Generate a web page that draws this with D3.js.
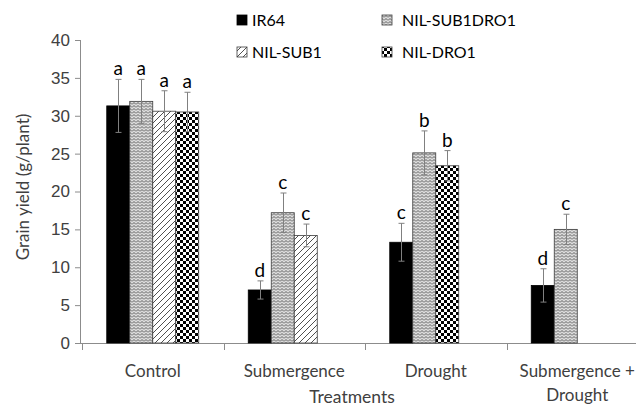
<!DOCTYPE html>
<html>
<head>
<meta charset="utf-8">
<script src="https://cdn.jsdelivr.net/npm/d3@7/dist/d3.min.js"></script>
<style>
  html, body { margin: 0; padding: 0; background: #fff; }
  svg { display: block; font-family: Lato, "Open Sans", sans-serif; }
</style>
</head>
<body>
<svg id="chart" width="636" height="406"></svg>
<script>
// Treatments along the x axis
const categories = ["Control", "Submergence", "Drought", "Submergence + Drought"];
// Genotypes, in bar order within each treatment
const seriesNames = ["IR64", "NIL-SUB1DRO1", "NIL-SUB1", "NIL-DRO1"];
// Legend order (two rows of two)
const legendOrder = ["IR64", "NIL-SUB1DRO1", "NIL-SUB1", "NIL-DRO1"];

// Mean grain yield (g/plant); null = not grown under that treatment
const yieldIR64     = [31.3, 7.0, 13.3, 7.6];
const yieldSUB1DRO1 = [31.9, 17.2, 25.1, 15.0];
const yieldSUB1     = [30.6, 14.2, null, null];
const yieldDRO1     = [30.5, null, 23.4, null];

// Standard errors
const errIR64     = [3.5, 1.2, 2.5, 2.2];
const errSUB1DRO1 = [2.9, 2.6, 2.9, 2.0];
const errSUB1     = [2.7, 1.5, null, null];
const errDRO1     = [2.6, null, 2.0, null];

// Significance letters
const letIR64     = ["a", "d", "c", "d"];
const letSUB1DRO1 = ["a", "c", "b", "c"];
const letSUB1     = ["a", "c", null, null];
const letDRO1     = ["a", null, "b", null];

const yTicks = [0, 5, 10, 15, 20, 25, 30, 35, 40];

const values  = [yieldIR64, yieldSUB1DRO1, yieldSUB1, yieldDRO1];
const errors  = [errIR64, errSUB1DRO1, errSUB1, errDRO1];
const letters = [letIR64, letSUB1DRO1, letSUB1, letDRO1];

const svg = d3.select("#chart");
const textColor = "#404040";
const axisColor = "#8c8c8c";

// Fill patterns for the genotypes
const defs = svg.append("defs");
const pWave = defs.append("pattern").attr("id", "pWave")
  .attr("patternUnits", "userSpaceOnUse").attr("width", 4).attr("height", 3);
pWave.append("rect").attr("width", 4).attr("height", 3).attr("fill", "#dcdcdc");
pWave.append("path").attr("d", "M0,2.5 L2,0.5 L4,2.5")
  .attr("fill", "none").attr("stroke", "#5e5e5e").attr("stroke-width", 1);

const pDiag = defs.append("pattern").attr("id", "pDiag")
  .attr("patternUnits", "userSpaceOnUse").attr("width", 6).attr("height", 6);
pDiag.append("rect").attr("width", 6).attr("height", 6).attr("fill", "#fff");
pDiag.append("path").attr("d", "M0,6 L6,0 M-1.5,1.5 L1.5,-1.5 M4.5,7.5 L7.5,4.5")
  .attr("stroke", "#505050").attr("stroke-width", 1);

const pCheck = defs.append("pattern").attr("id", "pCheck")
  .attr("patternUnits", "userSpaceOnUse").attr("width", 6).attr("height", 6);
pCheck.append("rect").attr("width", 6).attr("height", 6).attr("fill", "#fff");
pCheck.append("rect").attr("width", 3).attr("height", 3).attr("fill", "#000");
pCheck.append("rect").attr("x", 3).attr("y", 3).attr("width", 3).attr("height", 3).attr("fill", "#000");

const fills = {
  "IR64": "#000",
  "NIL-SUB1DRO1": "url(#pWave)",
  "NIL-SUB1": "url(#pDiag)",
  "NIL-DRO1": "url(#pCheck)"
};

// Scales
const x = d3.scaleBand().domain(categories).range([82, 648]).paddingInner(0).paddingOuter(0);
const groupW = 92;
const slot = d3.scaleBand().domain([0, 1, 2, 3])
  .range([(x.bandwidth() - groupW) / 2, (x.bandwidth() + groupW) / 2]).padding(0);
const y = d3.scaleLinear().domain([0, 40]).range([343, 40]);

// Y axis
const yAxis = svg.append("g").attr("transform", "translate(81,0)")
  .call(d3.axisLeft(y).tickValues(yTicks).tickSize(6).tickPadding(5));
yAxis.select(".domain").attr("stroke", axisColor).attr("d", `M-0.5,${y(40)}V${y(0)}`);
yAxis.selectAll(".tick line").attr("stroke", axisColor);
yAxis.selectAll(".tick text").attr("fill", textColor).style("font-size", "17px");

// X axis: ticks at category boundaries
const xAxisG = svg.append("g").attr("transform", `translate(0,${y(0)})`);
xAxisG.append("line").attr("x1", 75).attr("x2", 648).attr("y1", 0.5).attr("y2", 0.5)
  .attr("stroke", axisColor);
xAxisG.selectAll("line.bt").data(categories).enter().append("line").attr("class", "bt")
  .attr("x1", d => Math.round(x(d)) + 0.5).attr("x2", d => Math.round(x(d)) + 0.5)
  .attr("y1", 0).attr("y2", 7).attr("stroke", axisColor);

// Category labels (wrap the two-word treatment)
const catLabels = svg.append("g").attr("fill", textColor).style("font-size", "17px")
  .attr("text-anchor", "middle");
categories.forEach(c => {
  const lines = c.includes(" + ") ? [c.split(" + ")[0] + " +", c.split(" + ")[1]] : [c];
  const t = catLabels.append("text").attr("x", x(c) + x.bandwidth() / 2).attr("y", 377);
  lines.forEach((ln, i) => t.append("tspan").attr("x", x(c) + x.bandwidth() / 2)
    .attr("dy", i === 0 ? 0 : 24).text(ln));
});

// Axis titles
svg.append("text").attr("x", 352).attr("y", 403).attr("text-anchor", "middle")
  .attr("fill", textColor).style("font-size", "17.5px").text("Treatments");
svg.append("text").attr("transform", "translate(29,187) rotate(-90)")
  .attr("text-anchor", "middle").attr("fill", textColor).style("font-size", "17px")
  .text("Grain yield (g/plant)");

// Bars: each treatment packs its present genotypes side by side
const bars = [];
categories.forEach((c, ci) => {
  let k = 0;
  seriesNames.forEach((s, si) => {
    const v = values[si][ci];
    if (v == null) return;
    bars.push({ cat: c, series: s, slot: k++, value: v, err: errors[si][ci], letter: letters[si][ci] });
  });
});

const barG = svg.append("g");
barG.selectAll("rect").data(bars).enter().append("rect")
  .attr("x", d => x(d.cat) + slot(d.slot))
  .attr("y", d => y(d.value))
  .attr("width", slot.bandwidth())
  .attr("height", d => y(0) - y(d.value))
  .attr("fill", d => fills[d.series])
  .attr("stroke", d => d.series === "IR64" ? "#000" : "#3c3c3c")
  .attr("stroke-width", 0.8);

// Error bars
const errG = svg.append("g").attr("stroke", "#808080").attr("stroke-width", 1);
bars.forEach(d => {
  const cx = Math.round(x(d.cat) + slot(d.slot) + slot.bandwidth() / 2) + 0.5;
  const top = y(d.value + d.err), bot = y(d.value - d.err);
  errG.append("line").attr("x1", cx).attr("x2", cx).attr("y1", top).attr("y2", bot);
  errG.append("line").attr("x1", cx - 3).attr("x2", cx + 3).attr("y1", top).attr("y2", top);
  errG.append("line").attr("x1", cx - 3).attr("x2", cx + 3).attr("y1", bot).attr("y2", bot);
});

// Significance letters
svg.append("g").attr("fill", "#000").style("font-size", "19px").attr("text-anchor", "middle")
  .selectAll("text").data(bars).enter().append("text")
  .attr("x", d => x(d.cat) + slot(d.slot) + slot.bandwidth() / 2)
  .attr("y", d => y(d.value + d.err) - 4)
  .text(d => d.letter);

// Legend
const legendPos = [[237, 15, 15], [382, 15, 20], [237, 47, 15], [382, 47, 20]];
const legG = svg.append("g").style("font-size", "16px").attr("fill", "#000");
legendOrder.forEach((s, i) => {
  const [lx, ly, tx] = legendPos[i];
  legG.append("rect").attr("x", lx).attr("y", ly).attr("width", 10).attr("height", 10)
    .attr("fill", fills[s]).attr("stroke", s === "IR64" ? "#000" : "#3c3c3c").attr("stroke-width", 0.8);
  legG.append("text").attr("x", lx + tx).attr("y", ly + 11).text(s);
});
</script>
</body>
</html>
